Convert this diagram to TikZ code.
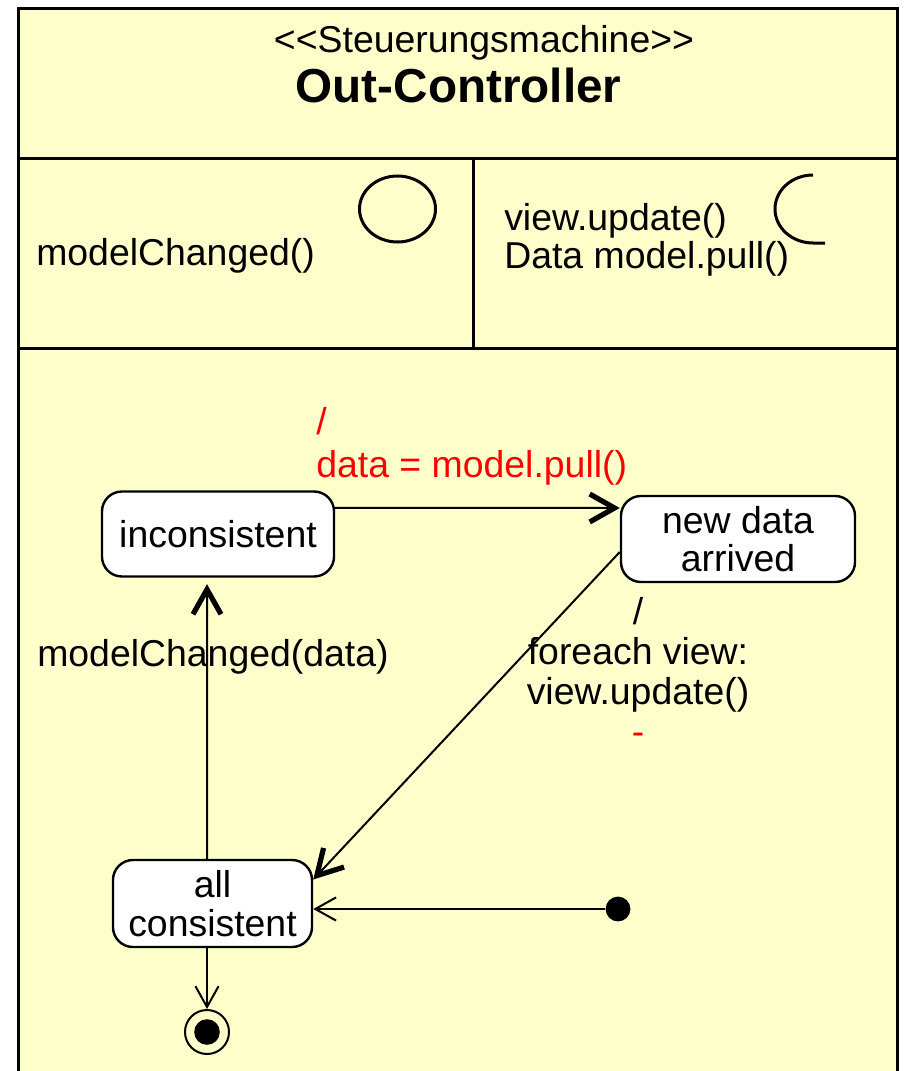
\documentclass[tikz,border=0pt]{standalone}
\usepackage{fontspec}
\setmainfont{Liberation Sans}
\usetikzlibrary{arrows.meta}
\definecolor{notebg}{RGB}{255,255,204}
\tikzset{
  statebox/.style={draw, fill=white, rounded corners=0.5cm, line width=0.06cm, inner sep=0pt, align=center},
  trans/.style={line width=0.05cm},
  thickhead/.style={-{Straight Barb[length=0.62cm, width=0.7cm, line width=0.13cm]}},
  thinhead/.style={-{Straight Barb[length=0.52cm, width=0.58cm]}},
  frameline/.style={line width=0.075cm},
}
\begin{document}
\begin{tikzpicture}[x=0.025cm, y=-0.025cm, font=\fontsize{26.6}{31}\selectfont]
\useasboundingbox (0,0) rectangle (903,1071);
{
% Drawing class frame
\fill [notebg] (18.5,8.5) rectangle (897.5,1071);%
\draw [frameline] (18.5,1071) -- (18.5,8.5) -- (897.5,8.5) -- (897.5,1071);%

% Drawing compartment lines
\draw [frameline] (18.5,158.5) -- (897.5,158.5);%
\draw [frameline] (18.5,348) -- (897.5,348);%
\draw [frameline] (473,158.5) -- (473,348);%

% Marking header
\node (stereo) at (484,43) {<\kern0pt<Steuerungsmachine>\kern0pt>};%
\node [font=\fontsize{33.9}{40}\selectfont\bfseries] (title) at (458.5,85) {Out-Controller};%

% Marking provided interface
\node [anchor=west, inner sep=0pt] (provided) at (36,256) {modelChanged()};%
\draw [frameline] (397.5,209) ellipse (38 and 33);%

% Marking required interface
\node [anchor=west, align=left, inner sep=0pt, font=\fontsize{26.6}{27}\selectfont] (required) at (504,240) {view.update()\\Data model.pull()};%
\draw [frameline] (813,175) arc [start angle=270, end angle=90, x radius=38, y radius=34] -- ++(12,0);%

% Drawing states
\node [statebox, minimum width=5.8cm, minimum height=2.125cm] (inc) at (218,534) {inconsistent};%
\node [statebox, minimum width=5.85cm, minimum height=2.15cm, font=\fontsize{26.6}{27}\selectfont] (nd) at (738,539) {new data\\arrived};%
\node [statebox, minimum width=4.975cm, minimum height=2.175cm, font=\fontsize{26.6}{28}\selectfont] (allc) at (212.5,903.5) {all\\consistent};%

% Drawing initial and final state
\node [circle, fill, inner sep=0pt, minimum size=0.62cm] (init) at (618,909) {};%
\node [circle, draw, line width=0.05cm, inner sep=0pt, minimum size=1.1cm] (fin) at (207,1032) {};%
\node [circle, fill, inner sep=0pt, minimum size=0.64cm] (fincore) at (fin) {};%

% Drawing transition inc nd
\draw [trans, thickhead] ([yshift=0.65cm]inc.east) -- ([yshift=0.775cm]nd.west);%
\node [anchor=west, align=left, inner sep=0pt, text=red, font=\fontsize{26.6}{30.6}\selectfont] (pull) at (316,446) {/\\data = model.pull()};%

% Drawing transition nd allc
\draw [trans, thickhead] ([yshift=-0.325cm]nd.west) -- ([yshift=0.6cm]allc.east);%
\node [align=center, inner sep=0pt, font=\fontsize{26.6}{28.5}\selectfont] (update) at (638,671) {/\\foreach view:\\view.update()\\\textcolor{red}{-}};%

% Drawing transition allc inc
\draw [trans, thickhead, shorten >=0.16cm] ([xshift=-0.1375cm]allc.north) -- ([xshift=-0.275cm]inc.south);%
\node [anchor=west, inner sep=0pt] (changed) at (37,657) {modelChanged(data)};%

% Drawing transition init allc
\draw [trans, thinhead] (init) -- (allc.east |- init);%

% Drawing transition allc fin
\draw [trans, thinhead] (allc.south -| fin) -- (fin.north);%
}
\end{tikzpicture}
\end{document}
